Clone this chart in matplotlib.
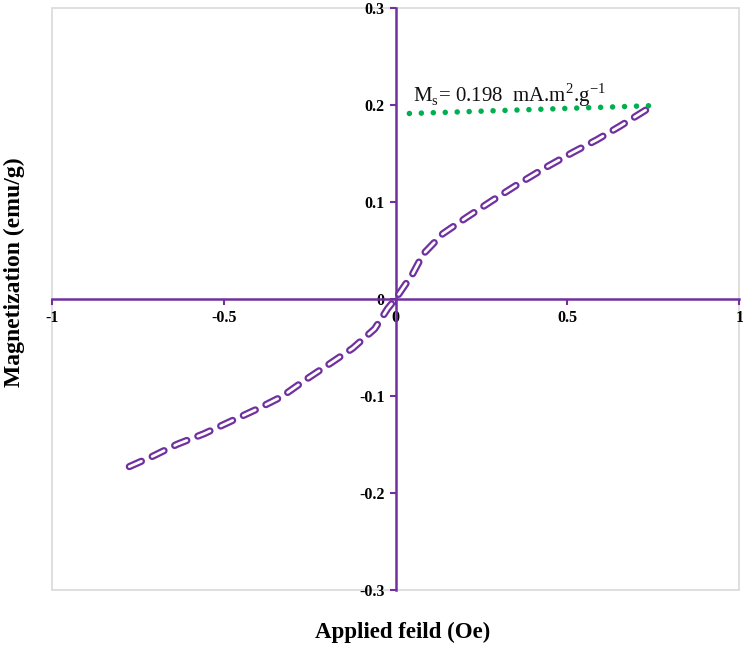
import matplotlib
matplotlib.use("Agg")
import matplotlib.pyplot as plt
from matplotlib.patches import Rectangle

plt.rcParams['lines.scale_dashes'] = False
plt.rcParams['font.family'] = ['Liberation Serif', 'DejaVu Serif']
plt.rcParams['mathtext.fontset'] = 'custom'
plt.rcParams['mathtext.rm'] = 'Liberation Serif'

# Magnetization curve (Applied field vs magnetization)
field = [-0.775, -0.711, -0.636, -0.557, -0.478, -0.405, -0.332, -0.26, -0.192,
         -0.125, -0.061, -0.023, 0.0, 0.05, 0.08, 0.137, 0.207, 0.28, 0.36,
         0.44, 0.516, 0.586, 0.653, 0.73, 0.742]
magnet = [-0.173, -0.163, -0.150, -0.139, -0.126, -0.114, -0.101, -0.083, -0.067,
          -0.051, -0.031, -0.010, 0.0, 0.026, 0.046, 0.067, 0.084, 0.101, 0.119,
          0.136, 0.151, 0.164, 0.178, 0.195, 0.197]

# Saturation line
sat_x = [0.04, 0.74]
sat_y = [0.191, 0.199]

x_ticks = [-1, -0.5, 0, 0.5, 1]
x_labels = ['-1', '-0.5', '0', '0.5', '1']
y_ticks = [-0.3, -0.2, -0.1, 0, 0.1, 0.2, 0.3]
y_labels = ['-0.3', '-0.2', '-0.1', '0', '0.1', '0.2', '0.3']

purple = '#7030A0'
green = '#00B050'

fig = plt.figure(figsize=(7.43, 6.46), dpi=100)
ax = fig.add_axes([0.070, 0.087, 0.925, 0.901])
ax.set_xlim(-1, 1)
ax.set_ylim(-0.3, 0.3)

# gray outer frame
ax.add_patch(Rectangle((0, 0), 1, 1, transform=ax.transAxes, fill=False,
                       edgecolor='#D9D9D9', linewidth=1.2, clip_on=False, zorder=0))

for s in ['top', 'right']:
    ax.spines[s].set_visible(False)
ax.spines['left'].set_position(('data', 0))
ax.spines['bottom'].set_position(('data', 0))
for s in ['left', 'bottom']:
    ax.spines[s].set_color(purple)
    ax.spines[s].set_linewidth(1.8)

ax.set_xticks(x_ticks)
ax.set_xticklabels(x_labels)
ax.set_yticks(y_ticks)
ax.set_yticklabels(y_labels)
ax.tick_params(axis='both', direction='out', length=4, width=1.5, color=purple,
               labelsize=11.5, pad=4)
for lbl in ax.get_xticklabels() + ax.get_yticklabels():
    lbl.set_fontweight('bold')

# hollow dashed curve
ax.plot(field, magnet, color=purple, linewidth=5.2, dashes=(9.5, 8.5),
        solid_capstyle='round', dash_capstyle='round', zorder=3)
ax.plot(field, magnet, color='white', linewidth=2.0, dashes=(9.5, 8.5),
        solid_capstyle='round', dash_capstyle='round', zorder=4)

# dotted saturation line
ax.plot(sat_x, sat_y, color=green, linewidth=4.0, dashes=(0.01, 8.6),
        dash_capstyle='round', solid_capstyle='round', zorder=3)

ax.text(0.05, 0.2035, r'M$_\mathrm{s}$= 0.198  mA.m$^2$.g$^{-1}$', fontsize=15,
        ha='left', va='baseline', color='#111111')

fig.text(0.542, 0.012, 'Applied feild (Oe)', ha='center', va='baseline',
         fontsize=16.5, fontweight='bold')
fig.text(0.019, 0.579, 'Magnetization (emu/g)', ha='center', va='center',
         rotation=90, fontsize=17, fontweight='bold')

fig.savefig('out.png', dpi=100)
